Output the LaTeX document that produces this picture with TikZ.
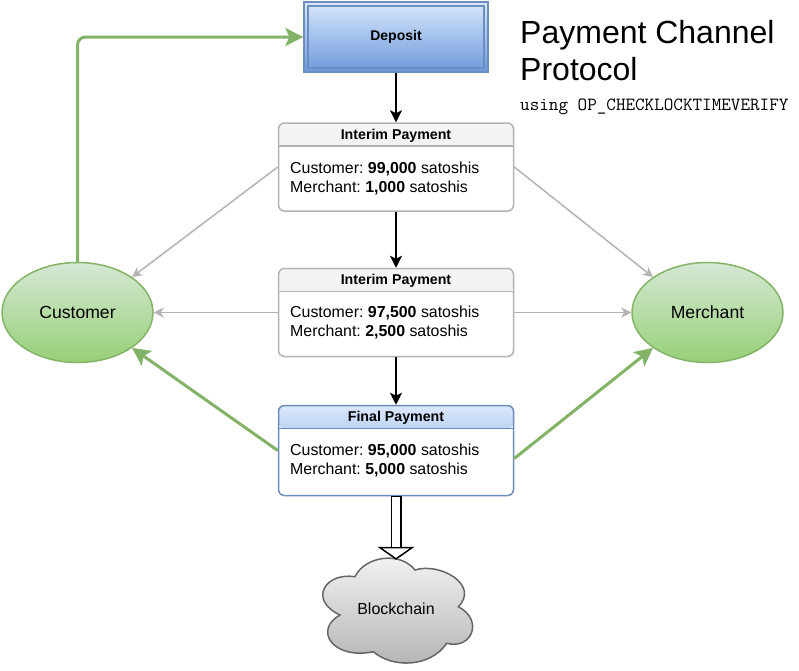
\documentclass[tikz,border=0pt]{standalone}
\usepackage{fontspec}
\setmainfont{Liberation Sans}
\usetikzlibrary{arrows.meta,shapes.geometric}
\definecolor{bluetop}{HTML}{DAE8FC}
\definecolor{bluebot}{HTML}{6C98DC}
\definecolor{blueline}{HTML}{6C8EBF}
\definecolor{greentop}{HTML}{D5E8D4}
\definecolor{greenbot}{HTML}{97D077}
\definecolor{greenline}{HTML}{82B366}
\definecolor{graytop}{HTML}{F5F5F5}
\definecolor{graybot}{HTML}{E6E6E6}
\definecolor{grayline}{HTML}{B3B3B3}
\definecolor{cloudline}{HTML}{666666}
\frenchspacing

\begin{document}
\begin{tikzpicture}[x=1pt,y=-1pt]
\tikzset{paybox/.style n args = {3}{shape=rectangle,draw=#3,line width=1.5pt,rounded corners=6pt,fill=white,
  minimum width=235pt,minimum height=88pt,inner sep=0pt,
  path picture={\shade[top color=#1,bottom color=#2] (path picture bounding box.north west) rectangle ([yshift=-23pt]path picture bounding box.north east);
    \draw[#3,line width=1.5pt] ([yshift=-23pt]path picture bounding box.north west) -- ([yshift=-23pt]path picture bounding box.north east);}}}
\tikzset{paytitle/.style = {font=\bfseries\fontsize{14.2}{17}\selectfont}}
\tikzset{paytext/.style = {anchor=west,align=left,inner sep=0pt,font=\fontsize{15.9}{19}\selectfont}}
\tikzset{party/.style = {shape=ellipse,draw=greenline,line width=1.5pt,top color=greentop,bottom color=greenbot,
  minimum width=151pt,minimum height=100pt,inner sep=0pt,font=\fontsize{17.6}{21}\selectfont}}
\tikzset{flow/.style = {draw=black,line width=1.5pt,-{Stealth[length=12pt,width=12pt,inset=3pt]}}}
\tikzset{copyline/.style = {draw=grayline,line width=1.5pt,-{Stealth[length=10pt,width=10pt,inset=3pt]}}}
\tikzset{signed/.style = {draw=greenline,line width=3pt,-{Stealth[length=18pt,width=18pt,inset=4pt]}}}
\useasboundingbox (0,0) rectangle (799,670);
% deposit
\node[shape=rectangle,draw=blueline,line width=1.3pt,top color=bluetop,bottom color=bluebot,
  minimum width=184pt,minimum height=70pt,inner sep=0pt,font=\bfseries\fontsize{14}{17}\selectfont,
  path picture={\draw[blueline,line width=1.3pt] ([shift={(4pt,-4pt)}]path picture bounding box.north west) rectangle ([shift={(-4pt,4pt)}]path picture bounding box.south east);}]
  (deposit) at (396,37) {\raisebox{-1pt}{Deposit}};
% title
\node[anchor=north west,align=left,inner sep=0pt,font=\fontsize{32}{37.5}\selectfont] (title) at (520,20) {Payment Channel\\Protocol};
\node[anchor=base west,inner sep=0pt,font=\ttfamily\fontsize{18.6}{21}\selectfont] (subtitle) at (520,110) {using OP\_CHECKLOCKTIMEVERIFY};
% payments
\node[paybox={graytop}{graybot}{grayline}] (pay1) at (396,167) {};
\node[paytitle] (pay1t) at (396,135.5) {Interim Payment};
\node[paytext] (pay1b) at (290,178) {Customer: \textbf{99,000} satoshis\\Merchant: \textbf{1,000} satoshis};
\node[paybox={graytop}{graybot}{grayline}] (pay2) at (396,312.5) {};
\node[paytitle] (pay2t) at (396,281) {Interim Payment};
\node[paytext] (pay2b) at (290,322.5) {Customer: \textbf{97,500} satoshis\\Merchant: \textbf{2,500} satoshis};
\node[paybox={bluetop}{bluebot}{blueline},minimum height=90pt] (pay3) at (396,450.5) {};
\node[paytitle] (pay3t) at (396,418) {Final Payment};
\node[paytext] (pay3b) at (290,460.5) {Customer: \textbf{95,000} satoshis\\Merchant: \textbf{5,000} satoshis};
% parties
\node[party] (customer) at (77.5,312.5) {Customer};
\node[party] (merchant) at (707.5,312.5) {Merchant};
% blockchain
\shade[draw=cloudline,line width=1.5pt,top color=graytop,bottom color=grayline]
  (355,576.7) .. controls (365,556) and (400,551) .. (415,570)
  .. controls (440,562) and (480,585) .. (458.3,606.7)
  .. controls (484,620) and (472,650) .. (446.7,643.3)
  .. controls (430,668) and (392,668) .. (373.3,651.7)
  .. controls (333,660) and (313,630) .. (340,615)
  .. controls (308,600) and (325,572) .. (355,576.7) -- cycle;
\node[minimum width=153pt,minimum height=101pt,inner sep=0pt,font=\fontsize{16}{19}\selectfont] (chain) at (396,608.5) {Blockchain};
% edges
\draw[flow] (deposit) to (pay1);
\draw[flow] (pay1) to (pay2);
\draw[flow] (pay2) to (pay3);
\draw[copyline] (pay1.west) to (customer.33);
\draw[copyline] (pay2.west) to (customer.east);
\draw[copyline] (pay1.east) to (merchant.147);
\draw[copyline] (pay2.east) to (merchant.west);
\draw[signed] (pay3.west) to (customer.-33);
\draw[signed] ([yshift=-8pt]pay3.east) to (merchant.213);
\draw[signed,rounded corners=8pt] (customer.north) |- (deposit.west);
\draw[line width=11pt,-{Triangle[length=13pt,width=37pt,fill=white,line width=1.5pt]},shorten >=-2pt]
  (pay3.south) to (pay3.south |- chain.north);
\draw[white,line width=8pt,shorten >=11pt] ([yshift=-1pt]pay3.south) to (pay3.south |- chain.north);
\end{tikzpicture}
\end{document}
